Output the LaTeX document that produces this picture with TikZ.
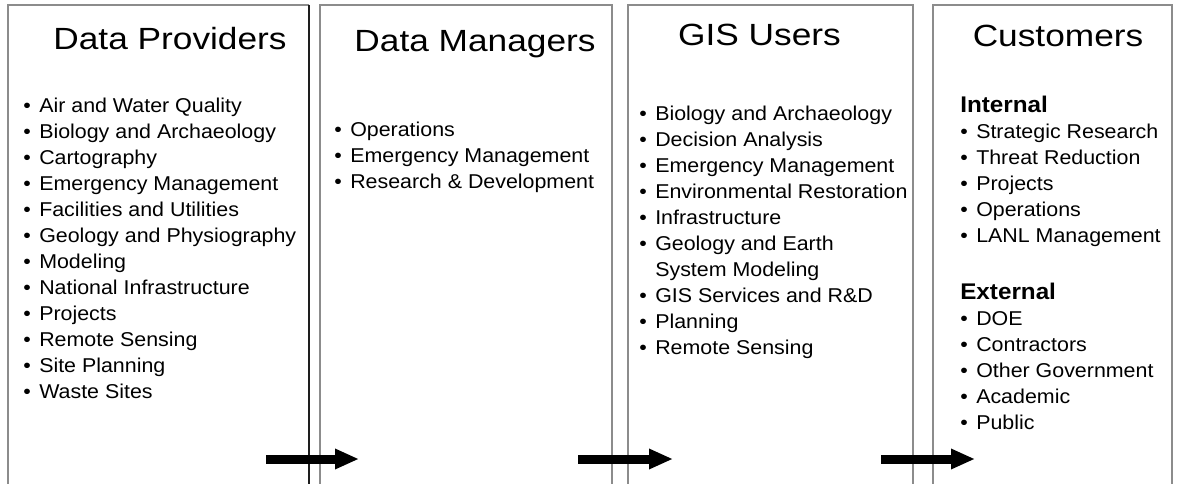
\documentclass[tikz,border=0pt]{standalone}
\usepackage{fontspec}
\setmainfont{Liberation Sans}
\newfontfamily\ttlfont{Liberation Sans}[FakeStretch=1.15]
\newfontfamily\lstfont{Liberation Sans}[FakeStretch=1.07]
\usepackage{xcolor}
\definecolor{pnlgray}{HTML}{8C8C8C}
\definecolor{pnldark}{HTML}{1E1E1E}
\usetikzlibrary{arrows.meta}
\newcommand{\bl}{\rule{0pt}{13pt}\makebox[12pt][l]{\textbullet}}
\newcommand{\nb}{\rule{0pt}{13pt}\hspace*{12pt}}
\newcommand{\hd}[1]{\rule{0pt}{13pt}{\bfseries\fontsize{17}{19.5}\selectfont #1}}

\begin{document}
\begin{tikzpicture}[x=0.75pt,y=-0.75pt]
\tikzset{
 pnl/.style={draw=pnlgray,line width=0.9pt},
 ttl/.style={anchor=base,inner sep=0pt,font=\ttlfont\fontsize{23}{27}\selectfont},
 lst/.style={anchor=north west,inner sep=0pt,yshift=13pt,align=left,font=\lstfont\fontsize{15}{19.5}\selectfont},
 arr/.style={line width=6.75pt,-{Triangle[length=18pt,width=14.25pt]}}
}
\fill[white] (0,0) rectangle (1177,484);
\useasboundingbox (0,0) rectangle (1177,484);
% panels
\draw[pnl] (8,484) |- (309,5);
\draw[line width=0.9pt,draw=pnldark] (309,5) -- (309,484);
\draw[pnl] (320,484) |- (612,5) -- (612,484);
\draw[pnl] (628,484) |- (913,5) -- (913,484);
\draw[pnl] (933,484) |- (1172,5) -- (1172,484);
% titles
\node[ttl] (t1) at (170,50) {Data Providers};
\node[ttl] (t2) at (475,52) {Data Managers};
\node[ttl] (t3) at (759.5,46) {GIS Users};
\node[ttl] (t4) at (1058,47) {Customers};
% lists
\node[lst] (l1) at (23,112) {\bl Air and Water Quality\\ \bl Biology and Archaeology\\ \bl Cartography\\
 \bl Emergency Management\\ \bl Facilities and Utilities\\ \bl Geology and Physiography\\ \bl Modeling\\
 \bl National Infrastructure\\ \bl Projects\\ \bl Remote Sensing\\ \bl Site Planning\\ \bl Waste Sites};
\node[lst] (l2) at (334,136) {\bl Operations\\ \bl Emergency Management\\ \bl Research \& Development};
\node[lst] (l3) at (639,120) {\bl Biology and Archaeology\\ \bl Decision Analysis\\ \bl Emergency Management\\
 \bl Environmental Restoration\\ \bl Infrastructure\\ \bl Geology and Earth\\ \nb System Modeling\\
 \bl GIS Services and R\&D\\ \bl Planning\\ \bl Remote Sensing};
\node[lst] (l4a) at (960,112) {\hd{Internal}\\ \bl Strategic Research\\ \bl Threat Reduction\\ \bl Projects\\
 \bl Operations\\ \bl LANL Management};
\node[lst] (l4b) at (960,299) {\hd{External}\\ \bl DOE\\ \bl Contractors\\ \bl Other Government\\
 \bl Academic\\ \bl Public};
% arrows
\coordinate (a1s) at (266,459); \coordinate (a1e) at (359,459);
\coordinate (a2s) at (578,459); \coordinate (a2e) at (673,459);
\coordinate (a3s) at (881,459); \coordinate (a3e) at (975,459);
\foreach \i/\j in {a1s/a1e,a2s/a2e,a3s/a3e}{\draw[arr] (\i)--(\j);}
\end{tikzpicture}
\end{document}
